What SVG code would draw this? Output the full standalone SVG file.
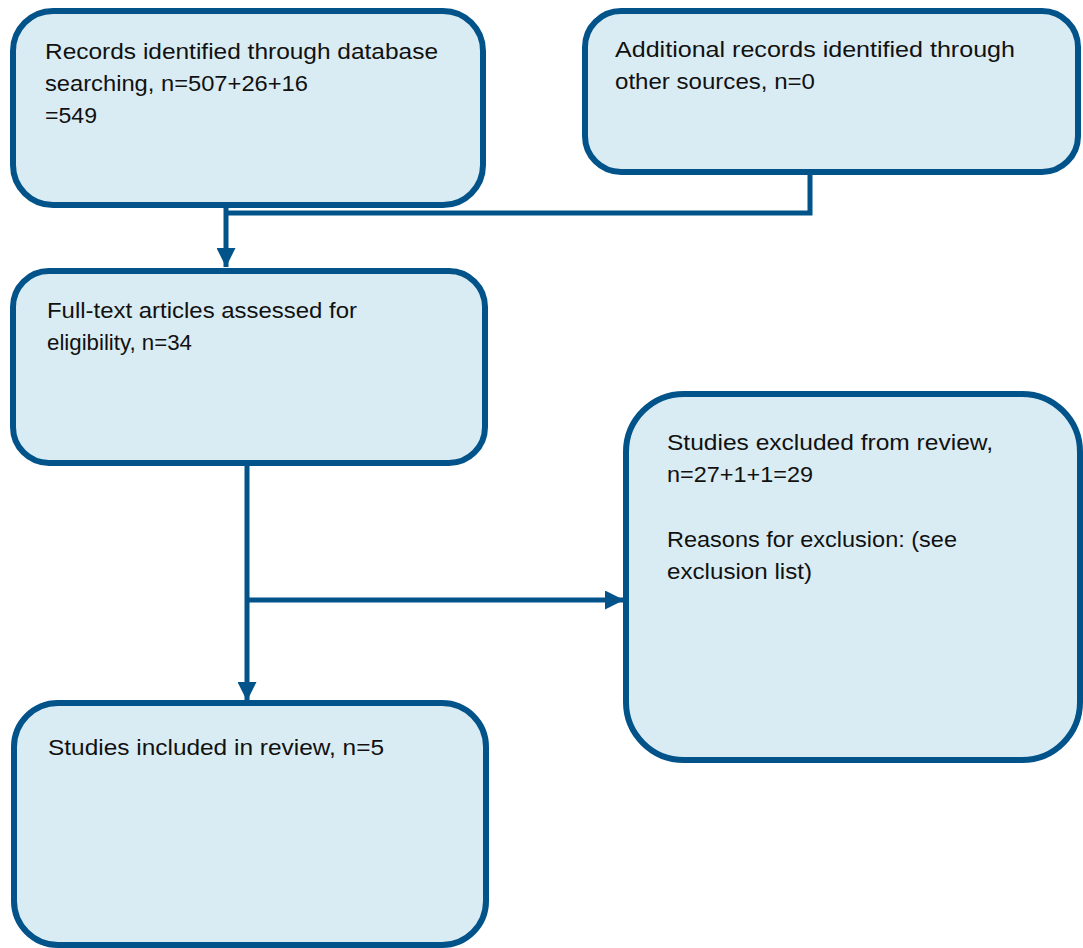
<svg xmlns="http://www.w3.org/2000/svg" width="1083" height="948" viewBox="0 0 1083 948">
<defs>
<style>
.box{fill:#daecf3;stroke:#01538a;stroke-width:6}
.t{font-family:"Liberation Sans",Arial,sans-serif;font-size:22px;fill:#111}
.c{fill:none;stroke:#01538a;stroke-width:5}
</style>
<marker id="ah" viewBox="0 0 10 10" refX="10" refY="5" markerWidth="3.8" markerHeight="3.8" orient="auto" markerUnits="strokeWidth">
<path d="M0,0 L10,5 L0,10 z" fill="#01538a"/>
</marker>
</defs>
<rect width="1083" height="948" fill="#fff"/>
<g id="connectors">
<path class="c" d="M810,172 V213 H226"/>
<path class="c" d="M226,205 V267" marker-end="url(#ah)"/>
<path class="c" d="M247,463 V701" marker-end="url(#ah)"/>
<path class="c" d="M247,600 H624" marker-end="url(#ah)"/>
</g>
<g id="n1">
<rect class="box" x="13" y="11" width="470" height="194" rx="40"/>
<text class="t" x="45" y="59" textLength="393" lengthAdjust="spacingAndGlyphs">Records identified through database</text>
<text class="t" x="45" y="91" textLength="263" lengthAdjust="spacingAndGlyphs">searching, n=507+26+16</text>
<text class="t" x="45" y="123" textLength="52" lengthAdjust="spacingAndGlyphs">=549</text>
</g>
<g id="n2">
<rect class="box" x="585" y="11" width="493" height="161" rx="36"/>
<text class="t" x="615" y="57" textLength="400" lengthAdjust="spacingAndGlyphs">Additional records identified through</text>
<text class="t" x="615" y="89" textLength="200" lengthAdjust="spacingAndGlyphs">other sources, n=0</text>
</g>
<g id="n3">
<rect class="box" x="13" y="271" width="472" height="192" rx="36"/>
<text class="t" x="47" y="318" textLength="310" lengthAdjust="spacingAndGlyphs">Full-text articles assessed for</text>
<text class="t" x="47" y="350" textLength="145" lengthAdjust="spacingAndGlyphs">eligibility, n=34</text>
</g>
<g id="n4">
<rect class="box" x="626" y="394" width="454" height="366" rx="58"/>
<text class="t" x="667" y="450" textLength="326" lengthAdjust="spacingAndGlyphs">Studies excluded from review,</text>
<text class="t" x="667" y="482" textLength="146" lengthAdjust="spacingAndGlyphs">n=27+1+1=29</text>
<text class="t" x="667" y="547" textLength="290" lengthAdjust="spacingAndGlyphs">Reasons for exclusion: (see</text>
<text class="t" x="667" y="579" textLength="145" lengthAdjust="spacingAndGlyphs">exclusion list)</text>
</g>
<g id="n5">
<rect class="box" x="14" y="703" width="472" height="242" rx="44"/>
<text class="t" x="48" y="755" textLength="336" lengthAdjust="spacingAndGlyphs">Studies included in review, n=5</text>
</g>
</svg>
